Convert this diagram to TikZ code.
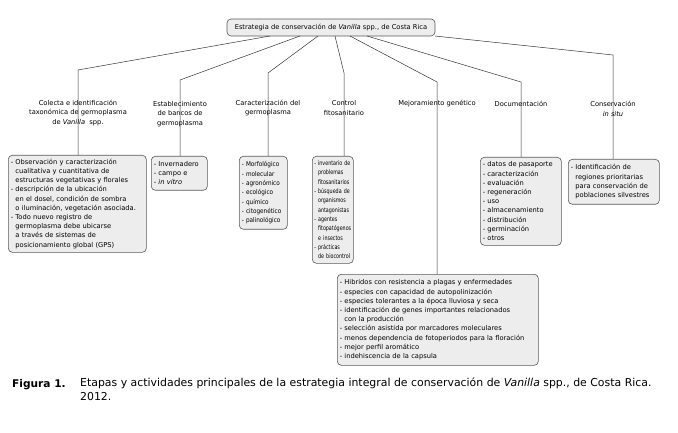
\documentclass[tikz,border=0pt]{standalone}
\usepackage{fontspec}
\setmainfont{DejaVu Sans}
\newfontfamily\narrowa[FakeStretch=0.88]{DejaVu Sans}
\newfontfamily\narrowb[FakeStretch=0.76]{DejaVu Sans}
\newcommand\hng{\phantom{-\ }}
\begin{document}
\begin{tikzpicture}[x=1pt,y=-1pt,
  conn/.style={draw=black!80, line width=0.5pt},
  boxbase/.style={draw=black!65, fill=black!7, rounded corners=4pt, line width=0.6pt},
  box/.style={boxbase, anchor=north west, align=left, inner xsep=2.5pt, inner ysep=2pt,
    font=\fontsize{6.7}{9.2}\selectfont},
  lab/.style={align=center, font=\fontsize{6.7}{9.6}\selectfont, inner sep=0pt},
]
\useasboundingbox (0,0) rectangle (678,433);
\node[boxbase, minimum width=208pt, minimum height=17pt, inner sep=0pt,
  font=\fontsize{6.7}{8}\selectfont] (root) at (331,27.5)
  {Estrategia de conservación de \textit{Vanilla} spp., de Costa Rica};

% bend points
\coordinate (s1) at (270,36); \coordinate (k1) at (78,70);
\coordinate (s2) at (300,36); \coordinate (k2) at (180,80);
\coordinate (s3) at (318,36); \coordinate (k3) at (268,73);
\coordinate (s4) at (335,36); \coordinate (k4) at (344,73);
\coordinate (s5) at (350,36); \coordinate (k5) at (437,82);
\coordinate (s6) at (367,36); \coordinate (k6) at (521,82);
\coordinate (s7) at (435,36); \coordinate (k7) at (613,55);

% boxes
\node[box, text width=133pt, minimum height=97pt] (b1) at (8,155) {%
- Observación y caracterización\\
\hng cualitativa y cuantitativa de\\
\hng estructuras vegetativas y florales\\
- descripción de la ubicación\\
\hng en el dosel, condición de sombra\\
\hng o iluminación, vegetación asociada.\\
- Todo nuevo registro de\\
\hng germoplasma debe ubicarse\\
\hng a través de sistemas de\\
\hng posicionamiento global (GPS)};

\node[box, text width=51pt, minimum height=34pt] (b2) at (151,156) {%
- Invernadero\\
- campo e\\
- \textit{in vitro}};

\node[box, text width=43pt, minimum height=73pt, font=\narrowa\fontsize{6.5}{9.3}\selectfont] (b3) at (239,156) {%
- Morfológico\\
- molecular\\
- agronómico\\
- ecológico\\
- químico\\
- citogenético\\
- palinológico};

\node[box, text width=37pt, inner xsep=2pt, minimum height=107pt, font=\narrowb\fontsize{6.3}{9.3}\selectfont] (b4) at (312,156) {%
- inventario de\\
\hng problemas\\
\hng fitosanitarios\\
- búsqueda de\\
\hng organismos\\
\hng antagonistas\\
- agentes\\
\hng fitopatógenos\\
\hng e insectos\\
- prácticas\\
\hng de biocontrol};

\node[box, text width=196pt, minimum height=91pt] (b5) at (337,274) {%
- Hibridos con resistencia a plagas y enfermedades\\
- especies con capacidad de autopolinización\\
- especies tolerantes a la época lluviosa y seca\\
- identificación de genes importantes relacionados\\
\hng con la producción\\
- selección asistida por marcadores moleculares\\
- menos dependencia de fotoperiodos para la floración\\
- mejor perfil aromático\\
- indehiscencia de la capsula};

\node[box, text width=76pt, minimum height=88pt] (b6) at (480,157) {%
- datos de pasaporte\\
- caracterización\\
- evaluación\\
- regeneración\\
- uso\\
- almacenamiento\\
- distribución\\
- germinación\\
- otros};

\node[box, text width=86pt, minimum height=45pt] (b7) at (568,159) {%
- Identificación de\\
\hng regiones prioritarias\\
\hng para conservación de\\
\hng poblaciones silvestres};

% connectors
\draw[conn] (s1) -- (k1) -- (k1 |- b1.north);
\draw[conn] (s2) -- (k2) -- (k2 |- b2.north);
\draw[conn] (s3) -- (k3) -- (k3 |- b3.north);
\draw[conn] (s4) -- (k4) -- (k4 |- b4.north);
\draw[conn] (s5) -- (k5) -- (k5 |- b5.north);
\draw[conn] (s6) -- (k6) -- (k6 |- b6.north);
\draw[conn] (s7) -- (k7) -- (k7 |- b7.north);

% labels
\node[lab] (l1) at (78,113) {Colecta e identificación\\taxonómica de germoplasma\\de \textit{Vanilla}\ \ spp.};
\node[lab] (l2) at (180,114) {Establecimiento\\de bancos de\\germoplasma};
\node[lab] (l3) at (268,108) {Caracterización del\\germoplasma};
\node[lab] (l4) at (344,108) {Control\\fitosanitario};
\node[lab] (l5) at (437,104) {Mejoramiento genético};
\node[lab] (l6) at (521,104) {Documentación};
\node[lab] (l7) at (613,109) {Conservación\\\textit{in situ}};

% caption
\node[anchor=west, inner sep=0pt, font=\fontsize{10.6}{14}\selectfont\bfseries] (fig) at (12,384.5) {Figura 1.};
\node[anchor=north west, align=left, inner sep=0pt, font=\fontsize{10.9}{14.5}\selectfont] (cap) at (80,377.5)
  {Etapas y actividades principales de la estrategia integral de conservación de \textit{Vanilla} spp., de Costa Rica.\\2012.};
\end{tikzpicture}
\end{document}
